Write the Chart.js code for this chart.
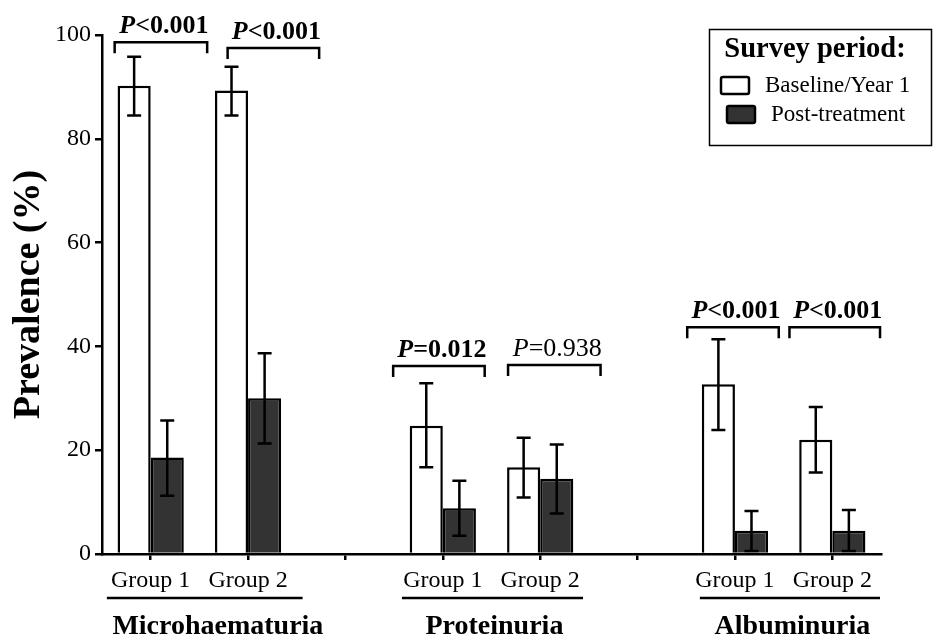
<!DOCTYPE html>
<html>
<head>
<meta charset="utf-8">
<script src="https://cdn.jsdelivr.net/npm/chart.js@4.4.1/dist/chart.umd.min.js"></script>
<style>
  html, body { margin: 0; padding: 0; background: #fff; }
  #wrap { width: 933px; height: 637px; }
</style>
</head>
<body>
<div id="wrap"><canvas id="chart" width="933" height="637"></canvas></div>
<script>
const labels = ["Group 1", "Group 2", "", "Group 1", "Group 2", "", "Group 1", "Group 2"];

const baseline     = [90.2, 89.3, null, 24.7, 16.7, null, 32.7, 22.0];
const baselineLow  = [84.5, 84.5, null, 16.7, 10.9, null, 23.9, 15.7];
const baselineHigh = [95.8, 93.9, null, 32.9, 22.4, null, 41.4, 28.3];

const post     = [18.6, 30.0, null, 8.8, 14.5, null, 4.5, 4.5];
const postLow  = [11.2, 21.3, null, 3.5, 7.8, null, 0.6, 0.6];
const postHigh = [25.7, 38.7, null, 14.1, 21.1, null, 8.3, 8.5];

const yTicks = [0, 20, 40, 60, 80, 100];

// outcome groups below the axis (positions in category units)
const groupNames = ["Microhaematuria", "Proteinuria", "Albuminuria"];
const groupFrom  = [-0.45, 2.58, 5.64];
const groupTo    = [1.56, 4.44, 7.49];
const groupName_x = [0.69, 3.53, 6.59];

// significance brackets
const pSign   = ["<", "<", "=", "=", "<", "<"];
const pValue  = ["0.001", "0.001", "0.012", "0.938", "0.001", "0.001"];
const pBold   = [true, true, true, false, true, true];
const brFrom  = [-0.37, 0.79, 2.49, 3.67, 5.51, 6.56];
const brTo    = [0.58, 1.73, 3.43, 4.62, 6.45, 7.49];
const brLevel = [98.6, 97.5, 36.2, 36.4, 43.7, 43.7];

const SERIF = "'Liberation Serif', 'Times New Roman', serif";

function catX(scale, v) {
  const p0 = scale.getPixelForValue(0);
  const step = scale.getPixelForValue(1) - p0;
  return p0 + v * step;
}

const extras = {
  id: "extras",
  afterDatasetsDraw(chart) {
    const ctx = chart.ctx;
    const x = chart.scales.x, y = chart.scales.y;
    ctx.save();
    ctx.strokeStyle = "#000";
    ctx.lineWidth = 2.5;

    // error bars
    const lows = [baselineLow, postLow], highs = [baselineHigh, postHigh];
    [0, 1].forEach(d => {
      chart.getDatasetMeta(d).data.forEach((bar, i) => {
        if (lows[d][i] == null) return;
        const bx = bar.x;
        const yl = y.getPixelForValue(lows[d][i]);
        const yh = y.getPixelForValue(highs[d][i]);
        ctx.beginPath();
        ctx.moveTo(bx, yl); ctx.lineTo(bx, yh);
        ctx.moveTo(bx - 7, yl); ctx.lineTo(bx + 7, yl);
        ctx.moveTo(bx - 7, yh); ctx.lineTo(bx + 7, yh);
        ctx.stroke();
      });
    });

    // brackets with P values
    brFrom.forEach((f, k) => {
      const x1 = catX(x, f), x2 = catX(x, brTo[k]);
      const yy = y.getPixelForValue(brLevel[k]);
      ctx.beginPath();
      ctx.moveTo(x1, yy + 11); ctx.lineTo(x1, yy);
      ctx.lineTo(x2, yy); ctx.lineTo(x2, yy + 11);
      ctx.stroke();

      const w = pBold[k] ? "bold " : "";
      const fItal = "italic " + w + "26px " + SERIF;
      const fRest = w + "26px " + SERIF;
      ctx.font = fItal;
      const wP = ctx.measureText("P").width;
      const rest = pSign[k] + pValue[k];
      ctx.font = fRest;
      const wR = ctx.measureText(rest).width;
      const cx = (x1 + x2) / 2 + 3;
      const sx = cx - (wP + wR) / 2;
      ctx.fillStyle = "#000";
      ctx.textBaseline = "alphabetic";
      ctx.textAlign = "left";
      ctx.font = fItal;
      ctx.fillText("P", sx, yy - 9);
      ctx.font = fRest;
      ctx.fillText(rest, sx + wP, yy - 9);
    });

    // group underlines and names
    groupNames.forEach((name, g) => {
      const x1 = catX(x, groupFrom[g]), x2 = catX(x, groupTo[g]);
      ctx.beginPath();
      ctx.moveTo(x1, 598); ctx.lineTo(x2, 598);
      ctx.stroke();
      ctx.font = "bold 28px " + SERIF;
      ctx.textAlign = "center";
      ctx.textBaseline = "alphabetic";
      ctx.fillText(name, catX(x, groupName_x[g]), 634);
    });

    // legend box
    ctx.lineWidth = 1.5;
    ctx.strokeRect(709.5, 29.5, 222, 116);
    ctx.font = "bold 28.5px " + SERIF;
    ctx.textAlign = "center";
    ctx.fillText("Survey period:", 815, 57);
    ctx.font = "23px " + SERIF;
    ctx.textAlign = "left";
    ctx.textBaseline = "middle";
    const ds = chart.data.datasets;
    const sw = [[721, 77], [727, 106]];
    ds.forEach((d, k) => {
      ctx.fillStyle = d.backgroundColor;
      ctx.lineWidth = 2.5;
      ctx.beginPath();
      ctx.roundRect(sw[k][0], sw[k][1], 28, 17, 2);
      ctx.fill();
      ctx.stroke();
      ctx.fillStyle = "#000";
      ctx.fillText(d.label, sw[k][0] + 44, sw[k][1] + 9);
    });
    ctx.restore();
  }
};

new Chart(document.getElementById("chart"), {
  type: "bar",
  data: {
    labels: labels,
    datasets: [
      {
        label: "Baseline/Year 1",
        data: baseline,
        backgroundColor: "#ffffff",
        borderColor: "#000",
        borderWidth: 2.5,
        borderSkipped: "bottom"
      },
      {
        label: "Post-treatment",
        data: post,
        backgroundColor: "#333333",
        borderColor: "#000",
        borderWidth: 2.5,
        borderSkipped: "bottom"
      }
    ]
  },
  options: {
    responsive: false,
    animation: false,
    devicePixelRatio: 1,
    layout: { padding: { top: 35, right: 52, left: 0, bottom: 0 } },
    datasets: { bar: { categoryPercentage: 0.68, barPercentage: 1.0 } },
    plugins: { legend: { display: false }, tooltip: { enabled: false } },
    scales: {
      x: {
        grid: { drawOnChartArea: false, offset: false, tickLength: 6, color: "#000", lineWidth: 2.5 },
        border: { color: "#000", width: 2.5 },
        ticks: { color: "#000", font: { family: SERIF, size: 24 }, padding: 6, maxRotation: 0, autoSkip: false },
        afterFit(s) { s.height = 83; }
      },
      y: {
        min: 0,
        max: 100,
        afterBuildTicks(s) { s.ticks = yTicks.map(v => ({ value: v })); },
        grid: { drawOnChartArea: false, tickLength: 7, color: "#000", lineWidth: 2.5 },
        border: { color: "#000", width: 2.5 },
        ticks: { color: "#000", font: { family: SERIF, size: 24 }, padding: 4 },
        title: {
          display: true,
          text: "Prevalence (%)",
          color: "#000",
          font: { family: SERIF, size: 38, weight: "bold", lineHeight: 1 },
          padding: { top: 10 }
        },
        afterFit(s) { s.width = 102; }
      }
    }
  },
  plugins: [extras]
});
</script>
</body>
</html>
